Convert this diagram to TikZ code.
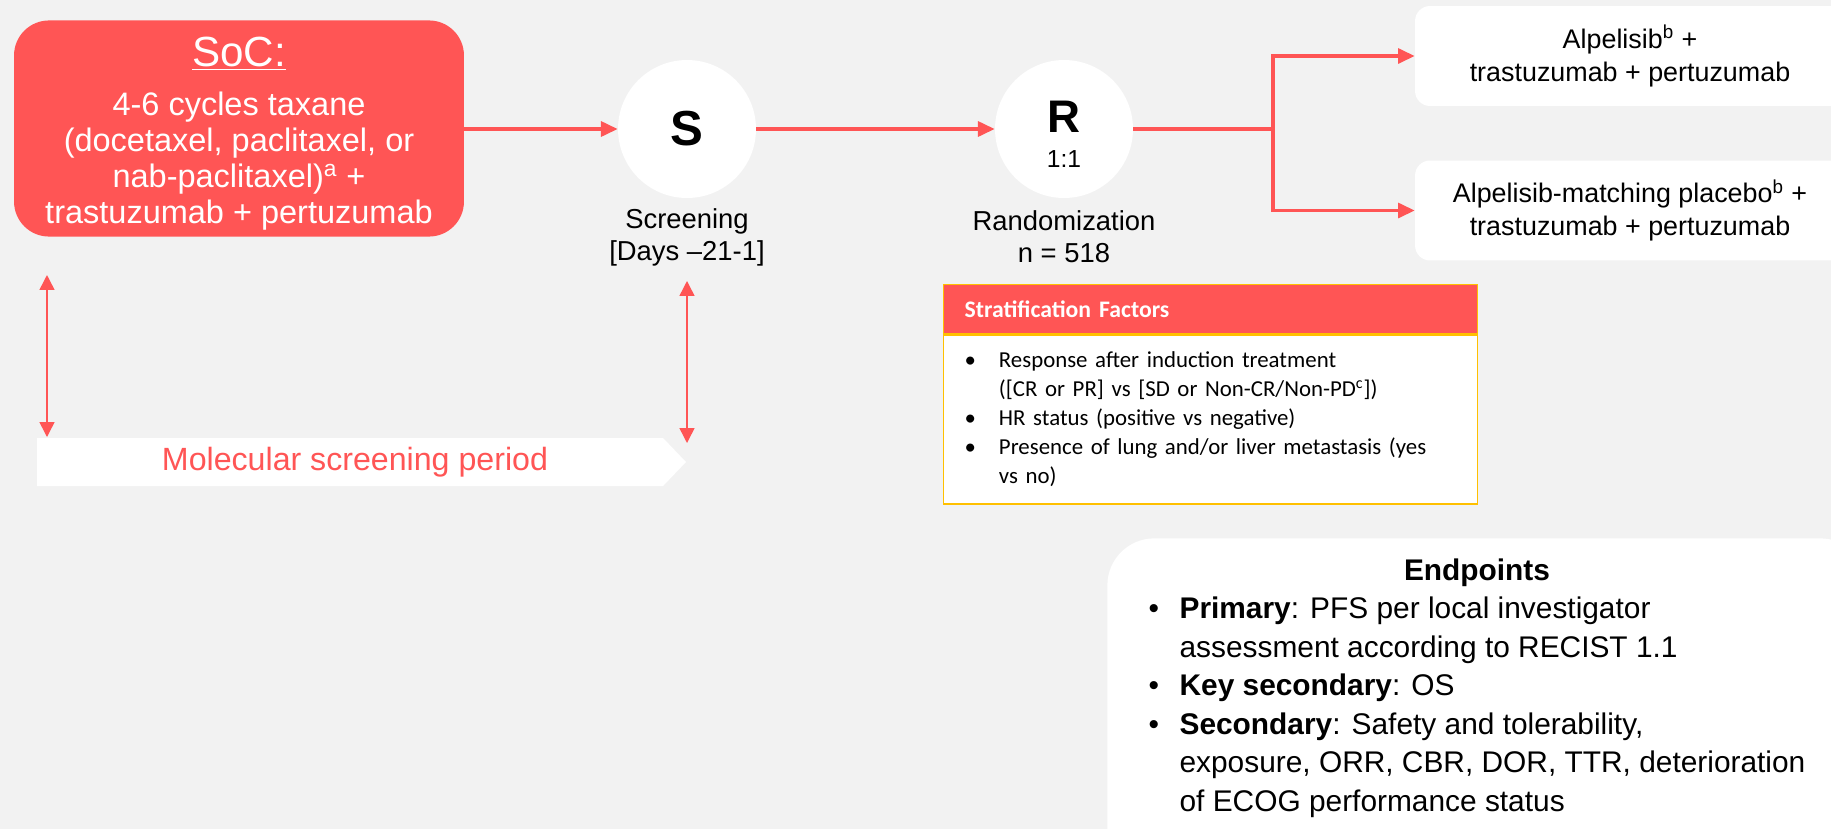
\documentclass[tikz,border=0pt]{standalone}
\usepackage{fontspec}
\setmainfont{Liberation Sans}
\newfontfamily\calibfont{Carlito}
\usetikzlibrary{positioning,arrows.meta}
\definecolor{coral}{HTML}{FF5555}
\definecolor{paper}{HTML}{F2F2F2}
\definecolor{gold}{HTML}{FFC000}
\tikzset{
	flow/.style={draw=coral,line width=1.9pt,-{Triangle[length=9.5pt,width=8.5pt]}},
	span/.style={draw=coral,line width=0.85pt,{Triangle[length=8.5pt,width=8.5pt]}-{Triangle[length=8.5pt,width=8.5pt]}},
	stage/.style={circle,fill=white,minimum size=2.76cm,inner sep=0pt},
	armbox/.style={rectangle,rounded corners=0.3cm,fill=white,minimum width=8.6cm,minimum height=2cm,align=center,font=\fontsize{15.3}{18.8}\selectfont},
	caption/.style={align=center,inner sep=0pt,font=\fontsize{15.6}{18.2}\selectfont},
	stratframe/.style={rectangle,draw=gold,line width=0.8pt,anchor=north west,text width=9.84cm,inner xsep=0.42cm,align=left}
}
\begin{document}
\begin{tikzpicture}[x=0.02cm,y=-0.02cm]
	\useasboundingbox (0,0) rectangle (1831,829);
	\clip (0,0) rectangle (1831,829);
	\fill[paper] (0,0) rectangle (1831,829);
	%SoC
	\node[rectangle,rounded corners=0.7cm,fill=coral,text=white,minimum width=9cm,minimum height=4.3cm,align=center,font=\fontsize{18.5}{20.5}\selectfont] (soc) at (239,128.5)
		{{\fontsize{24}{28}\selectfont\rule{0pt}{23pt}\underline{SoC:}}\\[7.5pt]4-6 cycles taxane\\(docetaxel, paclitaxel, or\\nab-paclitaxel)\textsuperscript{a} +\\trastuzumab + pertuzumab};
	%Screening
	\node[stage,font=\fontsize{28}{30}\selectfont\bfseries] (scr) at (687,129) {S};
	\node[caption,below=0.2cm of scr] (scrlab) {Screening\\{}[Days --21-1]};
	%Randomization
	\node[stage] (rand) at (1064,129) {};
	\node[inner sep=0pt,font=\fontsize{26}{28}\selectfont\bfseries] (randR) at (1064,117) {R};
	\node[inner sep=0pt,font=\fontsize{14}{16}\selectfont] (randQ) at (1064,159) {1:1};
	\node[caption,below=0.23cm of rand] (randlab) {Randomization\\n = 518};
	%Arms
	\node[armbox] (armA) at (1630,56) {Alpelisib\textsuperscript{b} +\\trastuzumab + pertuzumab};
	\node[armbox] (armB) at (1630,210.5) {Alpelisib-matching placebo\textsuperscript{b} +\\trastuzumab + pertuzumab};
	%Arrows
	\coordinate (split) at (1273,129);
	\draw[flow] (soc.east |- scr) -- (scr.west);
	\draw[flow] (scr) -- (rand);
	\draw[flow] (rand) -- (split) |- (armA.west);
	\draw[flow] (rand) -- (split) |- (armB.west);
	%Molecular screening period
	\def\M{ (37,438)--(663,438)--(686,462)--(663,486)--(37,486)--cycle;}
	\fill[white] \M
	\node[text=coral,font=\fontsize{18.3}{20}\selectfont] (molscr) at (355,462) {Molecular screening period};
	\coordinate (spanAtop) at (47,275);
	\coordinate (spanAbot) at (47,437);
	\coordinate (spanBtop) at (687,281);
	\coordinate (spanBbot) at (687,443);
	\draw[span] (spanAtop) -- (spanAbot);
	\draw[span] (spanBtop) -- (spanBbot);
	%Stratification factors
	\node[stratframe,fill=coral,minimum height=0.98cm,text=white,font=\calibfont\bfseries\fontsize{13.5}{16}\selectfont] (strathead) at (943,284) {Stratification Factors};
	\node[stratframe,fill=white,minimum height=3.38cm,font=\calibfont\fontsize{13}{16.5}\selectfont] (stratbody) at (strathead.south west)
		{\begin{tabular}{@{}l@{}l@{}}
			\makebox[19.5pt][l]{\textbullet} & Response after induction treatment\\
			& ([CR or PR] vs [SD or Non-CR/Non-PD\textsuperscript{c}])\\
			\makebox[19.5pt][l]{\textbullet} & HR status (positive vs negative)\\
			\makebox[19.5pt][l]{\textbullet} & Presence of lung and/or liver metastasis (yes\\
			& vs no)
		\end{tabular}};
	%Endpoints
	\node[rectangle,rounded corners=0.94cm,fill=white,anchor=north west,minimum width=15.2cm,minimum height=6.8cm] (endp) at (1107,538) {};
	\node[anchor=north,inner sep=0pt,font=\fontsize{17}{21.9}\selectfont] (endtxt) at (1477,553)
		{\begin{tabular}{@{}l@{}l@{}}
			\multicolumn{2}{@{}c@{}}{\textbf{Endpoints}}\\
			\makebox[17.6pt][l]{\textbullet} & \textbf{Primary}: PFS per local investigator\\
			& assessment according to RECIST 1.1\\
			\makebox[17.6pt][l]{\textbullet} & \textbf{Key secondary}: OS\\
			\makebox[17.6pt][l]{\textbullet} & \textbf{Secondary}: Safety and tolerability,\\
			& exposure, ORR, CBR, DOR, TTR, deterioration\\
			& of ECOG performance status
		\end{tabular}};
\end{tikzpicture}
\end{document}
